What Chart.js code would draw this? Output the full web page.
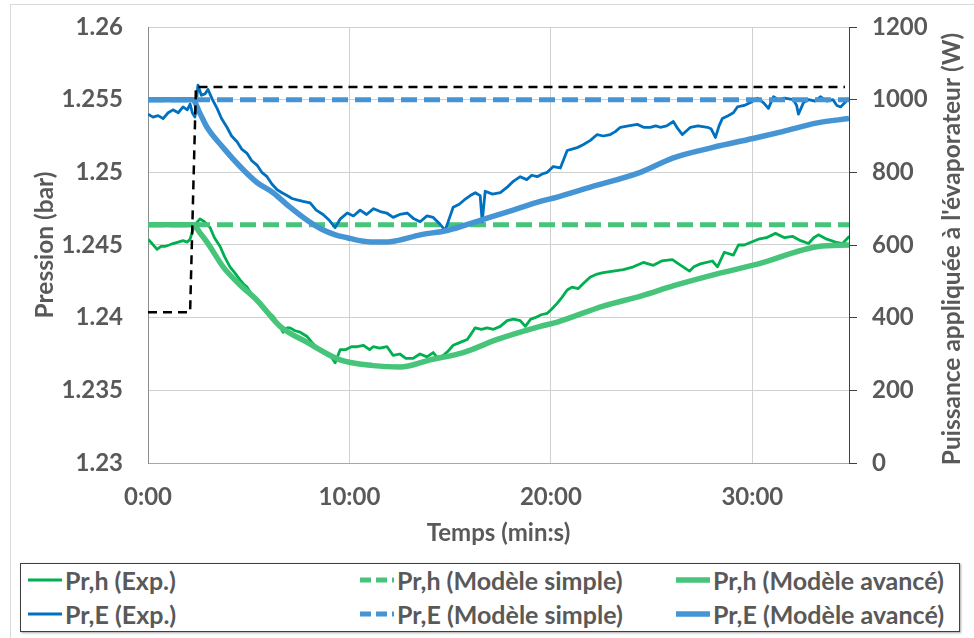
<!DOCTYPE html>
<html><head><meta charset="utf-8">
<script src="https://cdn.jsdelivr.net/npm/chart.js@4.4.0/dist/chart.umd.min.js"></script>
<style>
html,body{margin:0;padding:0;background:#fff;}
#wrap{position:relative;width:974px;height:638px;overflow:hidden;font-family:Lato, sans-serif;}
#frame{position:absolute;left:10px;top:4px;width:990px;height:700px;border:1px solid #d9d9d9;}
#cv{position:absolute;left:0;top:0;}
#legend{position:absolute;left:20px;top:563px;width:938px;height:67px;border:1px solid #3f3f3f;box-shadow:1px 1px 2px rgba(0,0,0,0.35);background:#fff;}
.item{position:absolute;display:flex;align-items:center;font-weight:bold;font-size:25px;color:#595959;white-space:nowrap;height:30px;}
.item svg{margin-right:2px;}
</style></head>
<body><div id="wrap"><div id="frame"></div><canvas id="cv" width="974" height="550"></canvas><div id="legend"></div></div>
<script>
// ---- Data (time in minutes) ----
const tPrhExp = [0.00,0.20,0.45,0.65,0.84,1.05,1.24,1.50,1.74,1.95,2.09,2.24,2.40,2.58,2.80,3.08,3.30,3.58,3.80,4.07,4.30,4.57,4.75,4.92,5.15,5.41,5.80,6.21,6.45,6.71,6.90,7.05,7.30,7.55,7.90,8.20,8.54,8.90,9.10,9.29,9.54,9.80,10.10,10.38,10.70,11.00,11.18,11.50,11.87,12.17,12.50,12.80,13.16,13.50,13.85,14.16,14.40,14.65,14.90,15.15,15.50,15.85,16.05,16.24,16.55,16.84,17.15,17.49,17.83,18.15,18.48,18.73,19.00,19.22,19.52,19.82,20.05,20.32,20.55,20.81,21.05,21.36,21.65,21.96,22.30,22.60,23.10,23.60,24.10,24.59,25.09,25.50,26.03,26.45,26.88,27.10,27.42,28.02,28.27,28.61,29.06,29.31,29.60,30.30,30.70,31.15,31.60,31.99,32.40,32.79,33.05,33.28,33.70,34.13,34.48,34.82];
const prhExp = [1.2454,1.2451,1.2447,1.2449,1.2449,1.2450,1.2451,1.2452,1.2453,1.2452,1.2454,1.2461,1.2465,1.2468,1.2466,1.2462,1.2455,1.2449,1.2442,1.2435,1.2431,1.2426,1.2423,1.2421,1.2416,1.2412,1.2406,1.2401,1.2396,1.2390,1.2393,1.2393,1.2391,1.2390,1.2387,1.2382,1.2378,1.2374,1.2373,1.2369,1.2378,1.2378,1.2380,1.2380,1.2381,1.2378,1.2380,1.2379,1.2380,1.2374,1.2375,1.2372,1.2372,1.2375,1.2373,1.2376,1.2372,1.2374,1.2377,1.2381,1.2383,1.2385,1.2389,1.2393,1.2392,1.2393,1.2392,1.2394,1.2398,1.2399,1.2398,1.2394,1.2399,1.2400,1.2402,1.2403,1.2406,1.2410,1.2414,1.2419,1.2421,1.2420,1.2424,1.2428,1.2430,1.2431,1.2432,1.2433,1.2435,1.2438,1.2436,1.2439,1.2440,1.2436,1.2432,1.2435,1.2437,1.2439,1.2435,1.2445,1.2443,1.2450,1.2450,1.2454,1.2455,1.2458,1.2455,1.2456,1.2453,1.2451,1.2455,1.2457,1.2454,1.2452,1.2451,1.2456];

const tPrEExp = [0.00,0.25,0.50,0.75,1.00,1.24,1.50,1.74,1.95,2.09,2.20,2.33,2.48,2.65,2.83,2.98,3.20,3.43,3.65,3.92,4.15,4.42,4.65,4.92,5.15,5.41,5.65,5.91,6.15,6.41,6.65,6.90,7.15,7.40,7.70,8.05,8.35,8.69,9.00,9.29,9.55,9.89,10.20,10.53,10.85,11.20,11.53,11.85,12.17,12.50,12.87,13.20,13.51,13.85,14.16,14.45,14.75,14.95,15.15,15.45,15.70,16.00,16.25,16.49,16.59,16.74,17.10,17.49,17.85,18.15,18.48,18.80,19.05,19.32,19.60,19.82,20.12,20.47,20.81,21.05,21.31,21.60,21.96,22.30,22.60,22.95,23.20,23.45,23.85,24.29,24.60,24.94,25.20,25.43,25.75,26.08,26.30,26.53,26.93,27.30,27.77,27.95,28.17,28.35,28.51,28.80,29.06,29.26,29.60,29.91,30.25,30.55,30.80,31.05,31.30,31.60,32.04,32.20,32.29,32.54,32.80,33.10,33.38,33.70,34.00,34.20,34.38,34.60,34.77];
const prEExp = [1.2540,1.2538,1.2539,1.2537,1.2541,1.2543,1.2541,1.2545,1.2543,1.2547,1.2541,1.2538,1.2560,1.2553,1.2554,1.2557,1.2550,1.2544,1.2537,1.2531,1.2525,1.2521,1.2516,1.2513,1.2508,1.2505,1.2500,1.2497,1.2492,1.2488,1.2486,1.2484,1.2482,1.2481,1.2480,1.2479,1.2474,1.2471,1.2467,1.2462,1.2468,1.2472,1.2470,1.2474,1.2471,1.2475,1.2473,1.2472,1.2469,1.2471,1.2472,1.2468,1.2466,1.2470,1.2469,1.2465,1.2460,1.2468,1.2476,1.2478,1.2481,1.2484,1.2486,1.2484,1.2466,1.2487,1.2485,1.2486,1.2490,1.2494,1.2497,1.2495,1.2498,1.2497,1.2499,1.2500,1.2504,1.2503,1.2515,1.2516,1.2517,1.2519,1.2522,1.2526,1.2525,1.2526,1.2528,1.2531,1.2532,1.2533,1.2531,1.2531,1.2532,1.2531,1.2532,1.2535,1.2530,1.2526,1.2531,1.2532,1.2531,1.2530,1.2524,1.2532,1.2537,1.2539,1.2541,1.2545,1.2546,1.2548,1.2551,1.2548,1.2544,1.2552,1.2550,1.2551,1.2550,1.2546,1.2540,1.2548,1.2550,1.2549,1.2552,1.2549,1.2550,1.2546,1.2545,1.2548,1.2551];

const tPrhAdv = [0,2.24,2.60,2.93,3.73,4.57,5.41,6.56,7.90,9.54,11.18,12.52,14.01,15.65,17.34,19.47,20.32,22.60,24.50,26.10,28.20,30.30,33.28,34.80];
const prhAdv  = [1.2464,1.2464,1.2458,1.2452,1.2435,1.24225,1.2412,1.2394,1.2383,1.2371,1.2367,1.2366,1.2371,1.2376,1.2385,1.2394,1.2397,1.2408,1.2415,1.2422,1.2430,1.2437,1.2449,1.2450];

const tPrEAdv = [0,2.20,2.60,2.93,3.73,4.57,5.41,6.21,7.05,7.90,8.60,9.30,9.89,10.50,11.18,11.80,12.37,13.51,14.85,16.49,18.13,19.47,20.32,22.00,24.44,26.08,28.00,30.25,31.50,33.23,34.80];
const prEAdv  = [1.2550,1.2550,1.2540,1.2531,1.2517,1.2504,1.2493,1.2486,1.2476,1.2467,1.2461,1.2457,1.2455,1.2453,1.2452,1.2452,1.2453,1.2457,1.2460,1.2467,1.2474,1.2480,1.2483,1.2490,1.2500,1.2510,1.2517,1.2524,1.2528,1.2534,1.2537];

const tSimple = [0, 34.8];
const prhSimple = [1.2464, 1.2464];
const prESimple = [1.2550, 1.2550];

const tPower = [0, 2.09, 2.38, 34.6];
const power  = [415, 415, 1035, 1035];

const xTicks = [0, 10, 20, 30];
const leftTitle = 'Pression (bar)';
const rightTitle = "Puissance appliquée à l'évaporateur (W)";
const xTitle = 'Temps (min:s)';
const labels = ['Pr,h (Exp.)','Pr,h (Modèle simple)','Pr,h (Modèle avancé)','Pr,E (Exp.)','Pr,E (Modèle simple)','Pr,E (Modèle avancé)'];

// ---- build ----
const pts = (t, v) => t.map((x, i) => ({x, y: v[i]}));
const GREEN = '#00B050', GREEN_M = '#45C47A', BLUE = '#0070C0', BLUE_M = '#4595D5';
const FONT = 'Lato';
const TXT = '#595959';
const TICKFONT = { family: FONT, size: 24, weight: 'bold' };

const base = {fill:false, pointRadius:0, tension:0, borderJoinStyle:'round'};
const dsPrhExp = {...base, label:labels[0], data:pts(tPrhExp, prhExp), borderColor:GREEN, borderWidth:2.8, yAxisID:'y'};
const dsPrhSim = {...base, label:labels[1], data:pts(tSimple, prhSimple), borderColor:GREEN_M, borderWidth:5, borderDash:[16,7], yAxisID:'y'};
const dsPrhAdv = {...base, label:labels[2], data:pts(tPrhAdv, prhAdv), borderColor:GREEN_M, borderWidth:5.5, cubicInterpolationMode:'monotone', yAxisID:'y'};
const dsPrEExp = {...base, label:labels[3], data:pts(tPrEExp, prEExp), borderColor:BLUE, borderWidth:2.8, yAxisID:'y'};
const dsPrESim = {...base, label:labels[4], data:pts(tSimple, prESimple), borderColor:BLUE_M, borderWidth:5, borderDash:[16,7], yAxisID:'y'};
const dsPrEAdv = {...base, label:labels[5], data:pts(tPrEAdv, prEAdv), borderColor:BLUE_M, borderWidth:5.5, cubicInterpolationMode:'monotone', yAxisID:'y'};
const dsPower  = {...base, label:'Puissance', data:pts(tPower, power), borderColor:'#000', borderWidth:2.5, borderDash:[9,6], yAxisID:'y2'};

const fmtTime = v => { const m = Math.floor(v + 1e-9); const s = Math.round((v - m) * 60); return m + ':' + String(s).padStart(2, '0'); };

const rightTitlePlugin = {
  id: 'rightTitle',
  afterDraw(chart) {
    const ctx = chart.ctx, a = chart.chartArea;
    ctx.save();
    ctx.translate(952, (a.top + a.bottom) / 2 + 4);
    ctx.rotate(-Math.PI / 2);
    ctx.font = 'bold 24.5px ' + FONT;
    ctx.fillStyle = TXT;
    ctx.textAlign = 'center';
    ctx.textBaseline = 'middle';
    ctx.fillText(rightTitle, 0, 0);
    ctx.restore();
  }
};

const noVPad = s => { s.paddingTop = 0; s.paddingBottom = 0; };

const chart = new Chart(document.getElementById('cv'), {
  type: 'line',
  data: { datasets: [dsPower, dsPrEAdv, dsPrESim, dsPrEExp, dsPrhAdv, dsPrhSim, dsPrhExp] },
  options: {
    responsive: false, animation: false,
    layout: { padding: { top: 27, left: 0, right: 0, bottom: 0 } },
    plugins: { legend: { display: false }, tooltip: { enabled: false } },
    scales: {
      x: {
        type: 'linear', position: 'bottom', min: 0, max: 34.8,
        afterBuildTicks: s => { s.ticks = xTicks.map(v => ({value: v})); },
        afterFit: s => { s.height = 87; s.paddingLeft = 0; s.paddingRight = 0; },
        grid: { color: '#d0d0d0', lineWidth: 1, drawTicks: false },
        border: { color: '#a6a6a6', width: 1 },
        ticks: { padding: 20, color: TXT, font: TICKFONT, callback: v => fmtTime(v) },
        title: { display: true, text: xTitle, color: TXT, font: { family: FONT, size: 24, weight: 'bold' }, padding: { top: 0, bottom: 2 } }
      },
      y: {
        type: 'linear', position: 'left', min: 1.23, max: 1.26,
        ticks: { stepSize: 0.005, padding: 25, color: TXT, font: TICKFONT, callback: v => String(parseFloat(v.toFixed(3))) },
        afterFit: s => { s.width = 148; noVPad(s); },
        grid: { color: '#d0d0d0', lineWidth: 1, drawTicks: false },
        border: { color: '#8c8c8c', width: 1 },
        title: { display: true, text: leftTitle, color: TXT, font: { family: FONT, size: 24.5, weight: 'bold' }, padding: { top: 30, bottom: 0 } }
      },
      y2: {
        type: 'linear', position: 'right', min: 0, max: 1200,
        ticks: { stepSize: 200, padding: 15, color: TXT, font: TICKFONT, callback: v => String(v) },
        afterFit: s => { s.width = 125; noVPad(s); },
        grid: { drawOnChartArea: false, drawTicks: true, tickLength: 8, color: '#404040' },
        border: { color: '#404040', width: 1 }
      }
    }
  },
  plugins: [rightTitlePlugin]
});

// ---- HTML legend ----
const legend = document.getElementById('legend');
const legendDefs = [
  {ds: dsPrhExp, x: 6, y: 0}, {ds: dsPrhSim, x: 338, y: 0}, {ds: dsPrhAdv, x: 654, y: 0},
  {ds: dsPrEExp, x: 6, y: 34}, {ds: dsPrESim, x: 338, y: 34}, {ds: dsPrEAdv, x: 654, y: 34}
];
legendDefs.forEach(d => {
  const el = document.createElement('div');
  el.className = 'item';
  el.style.left = d.x + 'px'; el.style.top = (d.y + 1) + 'px';
  const w = d.ds.borderWidth;
  const dash = d.ds.borderDash ? 'stroke-dasharray="11,5"' : '';
  el.innerHTML = `<svg width="36" height="12"><line x1="1" y1="6" x2="35" y2="6" stroke="${d.ds.borderColor}" stroke-width="${w}" ${dash}/></svg><span>${d.ds.label}</span>`;
  legend.appendChild(el);
});
</script>
</body></html>
